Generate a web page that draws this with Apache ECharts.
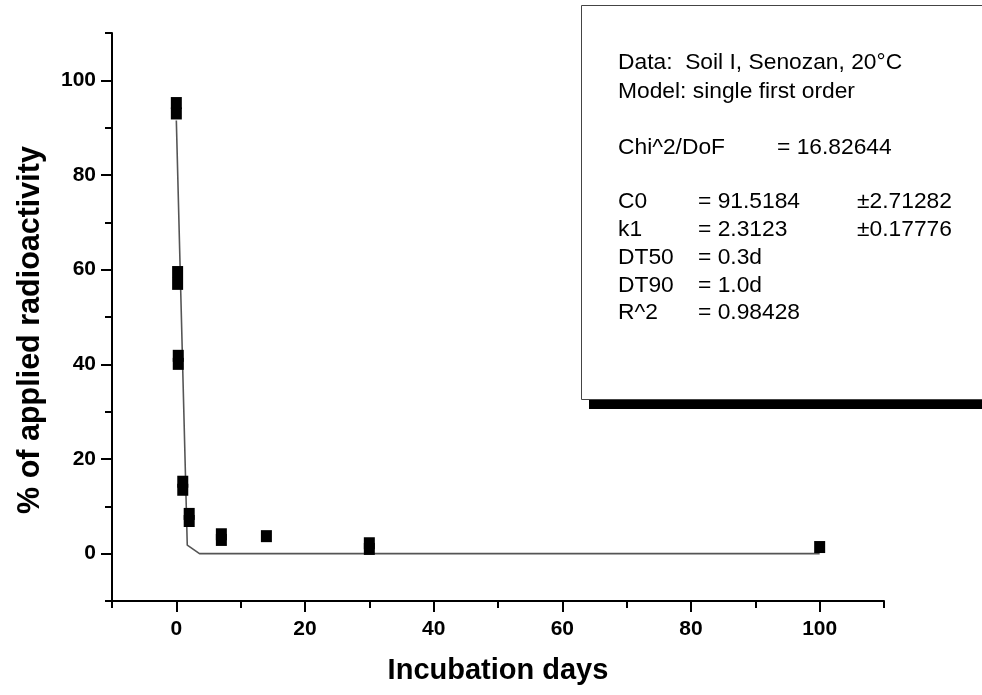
<!DOCTYPE html>
<html>
<head>
<meta charset="utf-8">
<script src="https://cdn.jsdelivr.net/npm/echarts@6/dist/echarts.min.js"></script>
<style>html,body{margin:0;padding:0;background:#fff;}#c{width:982px;height:695px;}</style>
</head>
<body>
<div id="c"></div>
<script>
// Observed data (days, % of applied radioactivity)
var days   = [0, 0, 0.2, 0.2, 0.3, 0.3, 1, 1, 2, 2, 7, 7, 14, 30, 30, 100];
var values = [95.2, 93.0, 59.5, 57.0, 41.8, 40.1, 15.2, 13.5, 8.4, 6.9, 4.1, 2.9, 3.7, 2.2, 1.0, 1.4];
// Fitted curve as drawn
var fitDays   = [0, 1.7, 3.6, 100];
var fitValues = [91.5, 1.8, 0, 0];
// Axis tick labels
var xLabels = [0, 20, 40, 60, 80, 100];
var yLabels = [0, 20, 40, 60, 80, 100];
var xMinor = [-10, 10, 30, 50, 70, 90, 110];
var yMinor = [-10, 10, 30, 50, 70, 90, 110];
// Fit box text
var boxHeader = ['Data:  Soil I, Senozan, 20\u00B0C', 'Model: single first order'];
var chiLabel = 'Chi^2/DoF', chiValue = '= 16.82644';
var paramNames  = ['C0', 'k1', 'DT50', 'DT90', 'R^2'];
var paramValues = ['= 91.5184', '= 2.3123', '= 0.3d', '= 1.0d', '= 0.98428'];
var paramErrors = ['\u00B12.71282', '\u00B10.17776', '', '', ''];

var pts = days.map(function (d, i) { return [d, values[i]]; });
var fit = fitDays.map(function (d, i) { return [d, fitValues[i]]; });

var FONT = "'Liberation Sans', Arial, sans-serif";
var gridPos = {left: 112, right: 98, top: 33, bottom: 94};

var textEls = [];
function addText(x, y, s) {
  textEls.push({type: 'text', x: x, y: y, z: 102,
    style: {text: s, fill: '#000', font: '22.8px ' + FONT, textVerticalAlign: 'middle', textAlign: 'left'}});
}
addText(618, 63, boxHeader[0]);
addText(618, 92, boxHeader[1]);
addText(618, 148, chiLabel);
addText(777, 148, chiValue);
var rowY = [202, 230, 258, 286, 313];
paramNames.forEach(function (n, i) {
  addText(618, rowY[i], n);
  addText(698, rowY[i], paramValues[i]);
  if (paramErrors[i]) addText(857, rowY[i], paramErrors[i]);
});

var option = {
  backgroundColor: '#fff',
  animation: false,
  grid: [
    Object.assign({containLabel: false}, gridPos),
    Object.assign({containLabel: false}, gridPos)
  ],
  xAxis: [{
    type: 'value', gridIndex: 0, min: -10, max: 110, interval: 10, position: 'bottom',
    name: 'Incubation days', nameLocation: 'middle', nameGap: 55,
    nameTextStyle: {fontFamily: FONT, fontWeight: 'bold', fontSize: 29, color: '#000'},
    axisLine: {show: true, onZero: false, lineStyle: {color: '#000', width: 2}},
    axisTick: {show: true, inside: false, length: 11, customValues: xLabels, lineStyle: {color: '#000', width: 2}},
    axisLabel: {customValues: xLabels, margin: 18, fontFamily: FONT, fontWeight: 'bold', fontSize: 21, color: '#000'},
    splitLine: {show: false}
  }, {
    type: 'value', gridIndex: 1, min: -10, max: 110, interval: 10, position: 'bottom',
    axisLine: {show: false, onZero: false},
    axisTick: {show: true, inside: false, length: 7, customValues: xMinor, lineStyle: {color: '#000', width: 2}},
    axisLabel: {show: false},
    splitLine: {show: false}
  }],
  yAxis: [{
    type: 'value', gridIndex: 0, min: -10, max: 110, interval: 10, position: 'left',
    name: '% of applied radioactivity', nameLocation: 'middle', nameGap: 66, nameRotate: 90,
    nameTextStyle: {fontFamily: FONT, fontWeight: 'bold', fontSize: 30.5, color: '#000', padding: [0, 26, 0, 0]},
    axisLine: {show: true, onZero: false, lineStyle: {color: '#000', width: 2}},
    axisTick: {show: true, inside: false, length: 11, customValues: yLabels, lineStyle: {color: '#000', width: 2}},
    axisLabel: {customValues: yLabels, margin: 16, fontFamily: FONT, fontWeight: 'bold', fontSize: 21, color: '#000'},
    splitLine: {show: false}
  }, {
    type: 'value', gridIndex: 1, min: -10, max: 110, interval: 10, position: 'left',
    axisLine: {show: false, onZero: false},
    axisTick: {show: true, inside: false, length: 7, customValues: yMinor, lineStyle: {color: '#000', width: 2}},
    axisLabel: {show: false},
    splitLine: {show: false}
  }],
  series: [{
    type: 'line', xAxisIndex: 0, yAxisIndex: 0, data: fit,
    showSymbol: false, symbol: 'none', smooth: false,
    lineStyle: {color: '#555', width: 1.6}, z: 2
  }, {
    type: 'scatter', xAxisIndex: 0, yAxisIndex: 0, data: pts,
    symbol: 'rect', symbolSize: [11, 12],
    itemStyle: {color: '#000', opacity: 1}, z: 3
  }],
  graphic: [
    {type: 'rect', z: 100, shape: {x: 589, y: 399, width: 420, height: 10}, style: {fill: '#000'}},
    {type: 'rect', z: 101, shape: {x: 581.5, y: 5.5, width: 430, height: 394}, style: {fill: '#fff', stroke: '#444', lineWidth: 1}}
  ].concat(textEls)
};

var chart = echarts.init(document.getElementById('c'), null, {renderer: 'canvas'});
chart.setOption(option);
</script>
</body>
</html>
